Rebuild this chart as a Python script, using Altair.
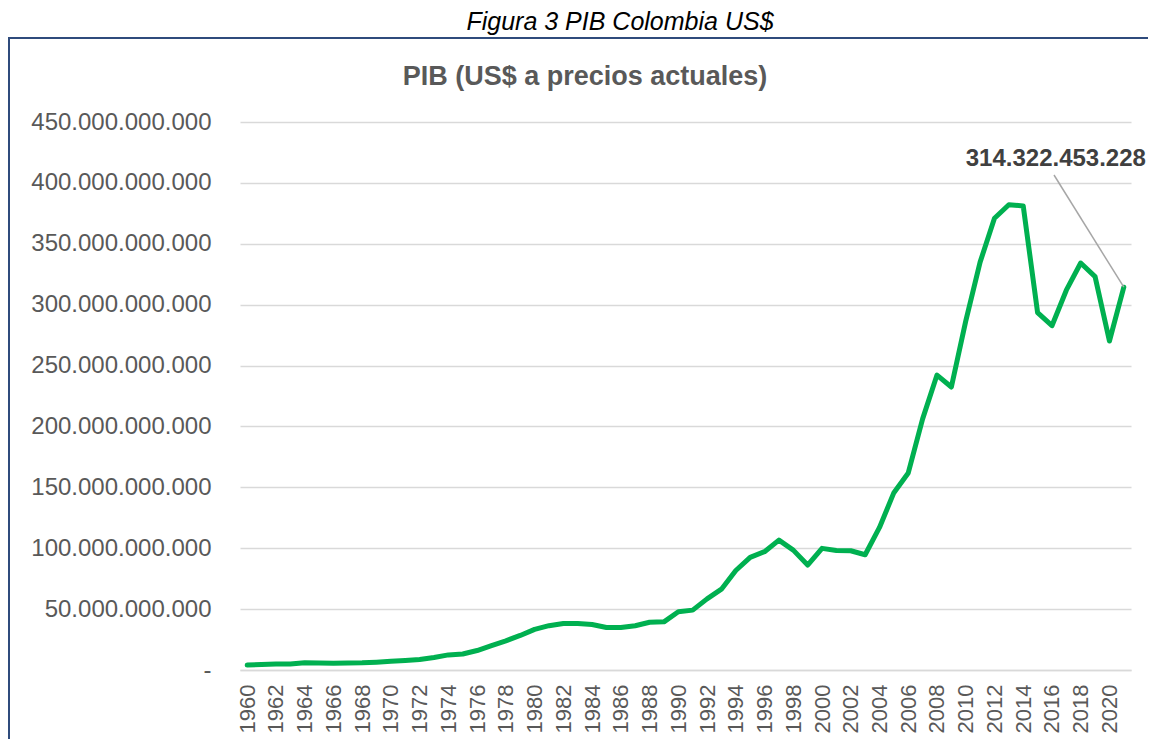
import altair as alt
import pandas as pd

years = list(range(1960, 2022))
gdp_billions = [4.03, 4.54, 4.95, 4.96, 5.95, 5.73, 5.55, 5.69, 5.92, 6.46,
                7.20, 7.82, 8.67, 10.32, 12.40, 13.10, 15.98, 20.03, 23.96, 28.37,
                33.40, 36.39, 38.25, 38.14, 37.35, 34.90, 34.92, 36.38, 39.21, 39.54,
                47.84, 49.18, 58.42, 66.37, 81.70, 92.51, 97.16, 106.66, 98.44, 86.19,
                99.88, 98.21, 97.94, 94.64, 117.08, 145.62, 161.79, 206.23, 242.19, 232.40,
                286.50, 334.94, 370.92, 382.09, 381.11, 293.49, 282.72, 311.88, 334.20, 323.03,
                270.15, 314.322453228]
y_ticks = [i * 50e9 for i in range(10)]
x_ticks = list(range(1960, 2021, 2))

outer_title = "Figura 3 PIB Colombia US$"
chart_title = "PIB (US$ a precios actuales)"

df = pd.DataFrame({"year": years, "value": [round(v * 1e9) for v in gdp_billions]})
one = pd.DataFrame({"k": [0]})

FONT = "Liberation Sans"
GREEN = "#00B050"
GRID = "#D9D9D9"

x_axis = alt.Axis(values=x_ticks, format="d", labelAngle=-90, labelFontSize=22,
                  labelColor="#595959", labelFont=FONT, labelPadding=14,
                  ticks=False, grid=False, domainColor=GRID, domainWidth=1.5,
                  title=None, labelOverlap=False, labelSeparation=0)
y_axis = alt.Axis(values=y_ticks,
                  labelExpr="datum.value == 0 ? '-\u00a0\u00a0' : replace(format(datum.value, ',d'), regexp(',', 'g'), '.')",
                  labelFontSize=24, labelColor="#595959", labelFont=FONT, labelLimit=400,
                  labelPadding=29, ticks=False, domain=False, grid=True,
                  gridColor=GRID, gridWidth=1.5, title=None, labelOverlap=False)
x_scale = alt.Scale(domain=[1959.5, 2021.5], nice=False, zero=False)
y_scale = alt.Scale(domain=[0, 450e9], nice=False)

x_enc = alt.X("year:Q", scale=x_scale, axis=x_axis)
y_enc = alt.Y("value:Q", scale=y_scale, axis=y_axis)

line = alt.Chart(df).mark_line(color=GREEN, strokeWidth=5, strokeJoin="round",
                               strokeCap="round").encode(x=x_enc, y=y_enc)

last = alt.Chart(df).transform_filter(alt.datum.year == 2021)

leader = last.mark_rule(color="#A6A6A6", strokeWidth=1.5).encode(
    x=x_enc, y=y_enc, x2=alt.value(814), y2=alt.value(53))

annot = last.transform_calculate(
    label="replace(format(datum.value, ',d'), regexp(',', 'g'), '.')"
).mark_text(font=FONT, fontSize=24, fontWeight="bold", color="#404040",
            align="center", baseline="alphabetic", dx=-68, dy=-121).encode(
    x=x_enc, y=y_enc, text="label:N")

border = alt.Chart(one).mark_rect(fillOpacity=0, stroke="#2F4B7C", strokeWidth=2).encode(
    x=alt.value(-231), x2=alt.value(940), y=alt.value(-84), y2=alt.value(660))

t1 = alt.Chart(one).mark_text(text=outer_title, font=FONT, fontSize=25, fontStyle="italic",
                              color="#000000", align="center", baseline="alphabetic").encode(
    x=alt.value(380), y=alt.value(-92))

t2 = alt.Chart(one).mark_text(text=chart_title, font=FONT, fontSize=27, fontWeight="bold",
                              color="#595959", align="center", baseline="alphabetic").encode(
    x=alt.value(345), y=alt.value(-37))

chart = alt.layer(border, t1, t2, line, leader, annot).properties(
    width=891, height=548,
    autosize=alt.AutoSizeParams(type="none"),
    padding={"left": 232, "top": 114, "right": 17, "bottom": 69},
    background="white",
).configure_view(stroke=None).configure_axis(labelOverlap=False)

chart.save("out.html", embed_options={"renderer": "svg", "actions": False})
